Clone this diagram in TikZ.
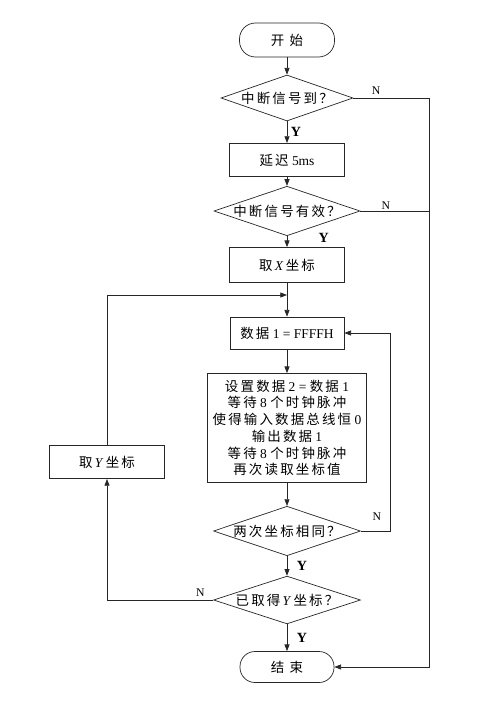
\documentclass[tikz,border=0pt]{standalone}
\usepackage{fontspec}
\setmainfont{Liberation Serif}
\newfontfamily\cjk[LetterSpace=16]{Noto Sans CJK SC}
\usetikzlibrary{arrows.meta,positioning,shapes.geometric,calc}
\tikzset{
    flowterm/.style={draw, rectangle, rounded corners=0.48cm, minimum width=2.85cm,
        minimum height=1.02cm, font=\fontsize{11.5}{14}\selectfont\cjk},
    flowbox/.style={draw, rectangle, minimum width=3.45cm, minimum height=1.0cm,
        inner sep=1pt, align=center},
    flowdec/.style={draw, diamond, aspect=2.9, inner sep=0pt, minimum width=4.0cm,
        minimum height=1.38cm},
    flowarrow/.style={-{Triangle[length=2mm,width=1.5mm]}},
    flowlabel/.style={font=\fontsize{10}{12}\selectfont, inner sep=1pt},
    flowyes/.style={font=\fontsize{12}{12}\selectfont\bfseries, inner sep=1pt}
}
\newcommand{\zh}[1]{{\cjk #1}}

\begin{document}
\begin{tikzpicture}[x=0.03cm, y=-0.03cm, line width=0.6pt, draw=black!85,
    every node/.style={font=\fontsize{11.5}{14.3}\selectfont}]
\useasboundingbox (0,0) rectangle (478,703);
% main column
\node[flowterm] (start) at (287,40) {开\hspace{0.4em}始};
\node[flowdec, minimum width=3.96cm] (wait) at (287,98) {\zh{中断信号到？}};
\node[flowbox] (delay) at (287,160) {\zh{延迟} 5ms};
\node[flowdec, minimum width=4.38cm, minimum height=1.35cm] (valid) at (287,211) {\zh{中断信号有效？}};
\node[flowbox, minimum height=1.05cm] (getx) at (287,265) {\zh{取}\,\textit{X}\,\zh{坐标}};
\coordinate (merge) at (287,295);
\node[flowbox, minimum width=3.42cm, minimum height=0.96cm] (data) at (287,333) {\zh{数据} 1 = FFFFH};
\node[flowbox, minimum width=4.77cm, minimum height=3.27cm] (read) at (287,428)
    {\zh{设置数据} 2 = \zh{数据} 1\\ \zh{等待} 8 \zh{个时钟脉冲}\\ \zh{使得输入数据总线恒} 0\\
     \zh{输出数据} 1\\ \zh{等待} 8 \zh{个时钟脉冲}\\ \zh{再次读取坐标值}};
\node[flowdec, minimum width=4.41cm] (same) at (287,531) {\zh{两次坐标相同？}};
\node[flowdec, minimum width=4.41cm] (gotY) at (287,600) {\zh{已取得}\,\textit{Y}\,\zh{坐标？}};
\node[flowterm, minimum width=2.82cm, minimum height=0.93cm, rounded corners=0.45cm] (stop) at (287,667) {结\hspace{0.4em}束};
% side boxes and corners
\node[flowbox] (gety) at (107,462) {\zh{取}\,\textit{Y}\,\zh{坐标}};
\coordinate (right1) at (429,98);
\coordinate (right2) at (429,211);
\coordinate (loop) at (390,531);

\draw[flowarrow] (start) -- (wait);
\draw[flowarrow] (wait) -- node[flowyes, right, xshift=2pt]{Y} (delay);
\draw[flowarrow] (delay) -- (valid);
\draw[flowarrow] (valid) -- node[flowyes, right, xshift=0.9cm, pos=0.2]{Y} (getx);
\draw[flowarrow] (getx) -- (data);
\draw[flowarrow] (data) -- (read);
\draw[flowarrow] (read) -- (same);
\draw[flowarrow] (same) -- node[flowyes, right, xshift=0.25cm]{Y} (gotY);
\draw[flowarrow] (gotY) -- node[flowyes, right, xshift=0.25cm]{Y} (stop);

\draw (wait.east) -- node[flowlabel, above, pos=0.3, yshift=2pt]{N} (right1);
\draw (valid.east) -- node[flowlabel, above, pos=0.37]{N} (right2);
\draw[flowarrow] (right1) -- (right1 |- stop) -- (stop.east);
\draw[flowarrow] (same.east) -- node[flowlabel, above, pos=0.55, yshift=8pt]{N} (loop) |- (data.east);
\draw[flowarrow] (gotY.west) -- node[flowlabel, above, pos=0.12, yshift=2pt]{N} (gotY.west -| gety) -- (gety.south);
\draw[flowarrow] (gety.north) |- (merge);
\end{tikzpicture}
\end{document}
